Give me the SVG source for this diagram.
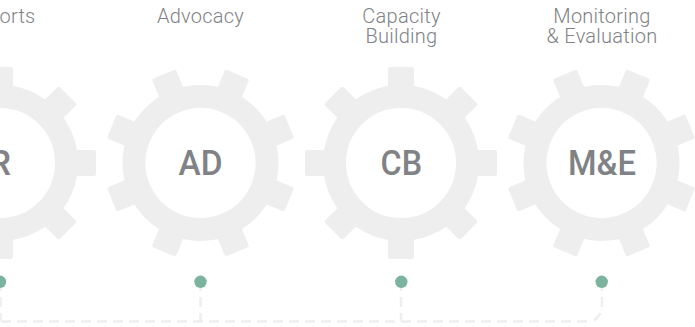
<svg xmlns="http://www.w3.org/2000/svg" width="695" height="327" viewBox="0 0 695 327">
<style>
.cap{font-family:Roboto,"Liberation Sans",sans-serif;font-weight:300;font-size:20px;fill:#808285;text-anchor:middle;letter-spacing:.25px}
.code{font-family:Roboto,"Liberation Sans",sans-serif;font-weight:500;font-size:35px;fill:#808285;text-anchor:middle}
.dot{fill:#7bb39e}
.link{fill:none;stroke:#eeeeee;stroke-width:2.5;stroke-dasharray:10 6}
.t{fill:#eeeeee}
</style>
<defs>
<g id="gear">
<circle r="66.5" fill="none" stroke="#eeeeee" stroke-width="23"/>
<rect class="t" x="-13" y="-96" width="26" height="24" rx="2"/>
<rect class="t" x="-13" y="-96" width="26" height="24" rx="2" transform="rotate(45)"/>
<rect class="t" x="-13" y="-96" width="26" height="24" rx="2" transform="rotate(90)"/>
<rect class="t" x="-13" y="-96" width="26" height="24" rx="2" transform="rotate(135)"/>
<rect class="t" x="-13" y="-96" width="26" height="24" rx="2" transform="rotate(180)"/>
<rect class="t" x="-13" y="-96" width="26" height="24" rx="2" transform="rotate(225)"/>
<rect class="t" x="-13" y="-96" width="26" height="24" rx="2" transform="rotate(270)"/>
<rect class="t" x="-13" y="-96" width="26" height="24" rx="2" transform="rotate(315)"/>
</g>
</defs>
<rect width="695" height="327" fill="#ffffff"/>
<g id="connectors">
<path class="link" d="M587 321.500H-10"/>
<path class="link" d="M0.500 281V321"/>
<path class="link" d="M200.500 281V321"/>
<path class="link" d="M401 281V321"/>
<path class="link" d="M602 281V307"/>
<path class="link" d="M600.500 313Q598.500 317 594 320.500"/>
</g>
<g id="node-r">
<text class="cap" x="0" y="23">Reports</text>
<use href="#gear" transform="translate(0 163)"/>
<text class="code" x="0" y="175">R</text>
<circle class="dot" cx="0" cy="281.800" r="6.200"/>
</g>
<g id="node-ad">
<text class="cap" x="200.500" y="23">Advocacy</text>
<use href="#gear" transform="translate(200.500 163) rotate(22.500)"/>
<text class="code" x="200.500" y="175" textLength="44" lengthAdjust="spacingAndGlyphs">AD</text>
<circle class="dot" cx="200.500" cy="281.800" r="6.200"/>
</g>
<g id="node-cb">
<text class="cap" x="401.500" y="23">Capacity<tspan x="401.500" y="43">Building</tspan></text>
<use href="#gear" transform="translate(401 163)"/>
<text class="code" x="401.300" y="175" textLength="41.500" lengthAdjust="spacingAndGlyphs">CB</text>
<circle class="dot" cx="401.300" cy="281.800" r="6.200"/>
</g>
<g id="node-me">
<text class="cap" x="602" y="23">Monitoring<tspan x="602" y="43">&amp; Evaluation</tspan></text>
<use href="#gear" transform="translate(601.500 163) rotate(22.500)"/>
<text class="code" x="602" y="175" textLength="68" lengthAdjust="spacingAndGlyphs">M&amp;E</text>
<circle class="dot" cx="601.700" cy="281.800" r="6.200"/>
</g>
</svg>
